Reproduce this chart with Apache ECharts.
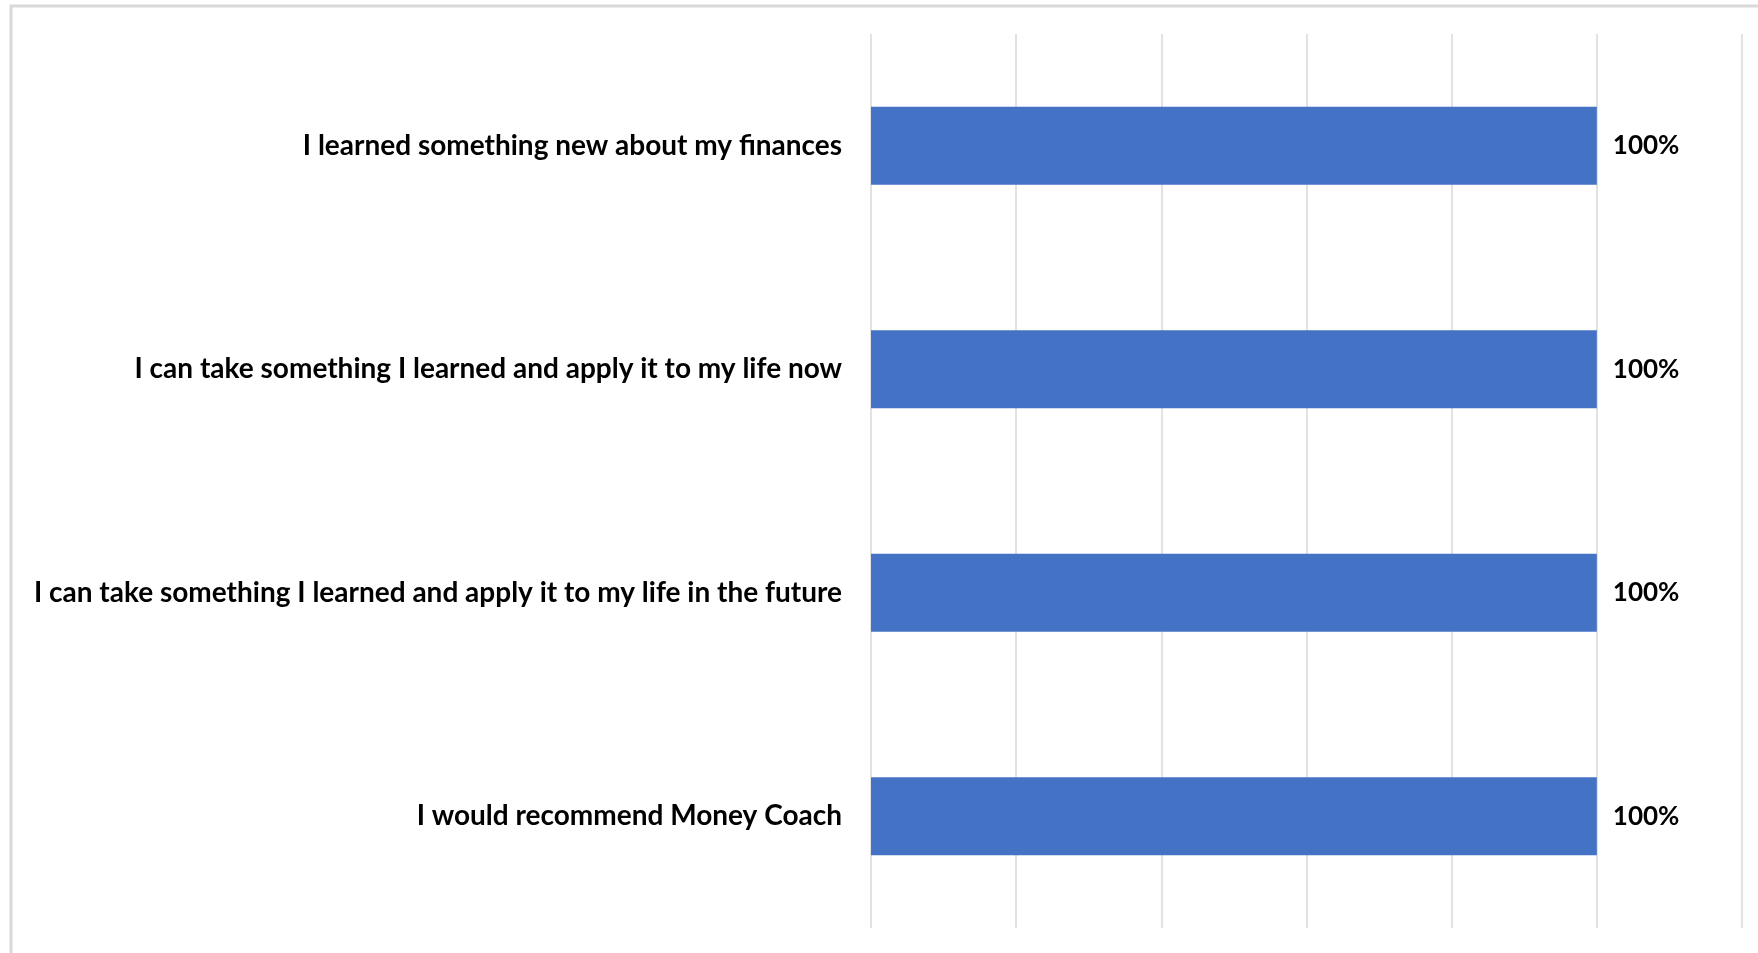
<!DOCTYPE html>
<html>
<head>
<meta charset="utf-8">
<title>Money Coach survey</title>
<script src="https://cdn.jsdelivr.net/npm/echarts@6/dist/echarts.min.js"></script>
<style>
  html, body { margin: 0; padding: 0; background: #fff; }
  #chart { width: 1758px; height: 953px; }
</style>
</head>
<body>
<div id="chart"></div>
<script>
// survey statements (top to bottom)
var categories = [
  'I learned something new about my finances',
  'I can take something I learned and apply it to my life now',
  'I can take something I learned and apply it to my life in the future',
  'I would recommend Money Coach'
];
// share of respondents agreeing
var values = [1, 1, 1, 1];
var axisMin = 0;
var axisMax = 1.2;
var axisStep = 0.2;

var labelFont = 'Lato, "Open Sans", sans-serif';

var chart = echarts.init(document.getElementById('chart'));

var option = {
  backgroundColor: '#fff',
  animation: false,
  // outer frame of the original (only top and left edges are visible)
  graphic: [{
    type: 'rect',
    shape: { x: 11, y: 6, width: 2000, height: 2000 },
    style: { fill: 'none', stroke: '#d9d9d9', lineWidth: 3 },
    silent: true
  }],
  grid: {
    left: 871,
    right: 16,
    top: 34,
    bottom: 25,
    containLabel: false
  },
  xAxis: {
    type: 'value',
    min: axisMin,
    max: axisMax,
    interval: axisStep,
    axisLine: { show: false },
    axisTick: { show: false },
    axisLabel: { show: false },
    splitLine: { lineStyle: { color: '#d9d9d9', width: 1.5 } }
  },
  yAxis: {
    type: 'category',
    inverse: true,
    data: categories,
    axisLine: { show: false },
    axisTick: { show: false },
    axisLabel: {
      margin: 29,
      color: '#000',
      fontFamily: labelFont,
      fontWeight: 'bold',
      fontSize: 28
    }
  },
  series: [{
    type: 'bar',
    data: values,
    barWidth: '35%',
    itemStyle: { color: '#4472C4' },
    label: {
      show: true,
      position: 'right',
      distance: 16,
      color: '#000',
      fontFamily: labelFont,
      fontWeight: 'bold',
      fontSize: 26,
      formatter: function (p) {
        return Math.round(p.value * 100) + '%';
      }
    }
  }]
};

chart.setOption(option);
</script>
</body>
</html>
